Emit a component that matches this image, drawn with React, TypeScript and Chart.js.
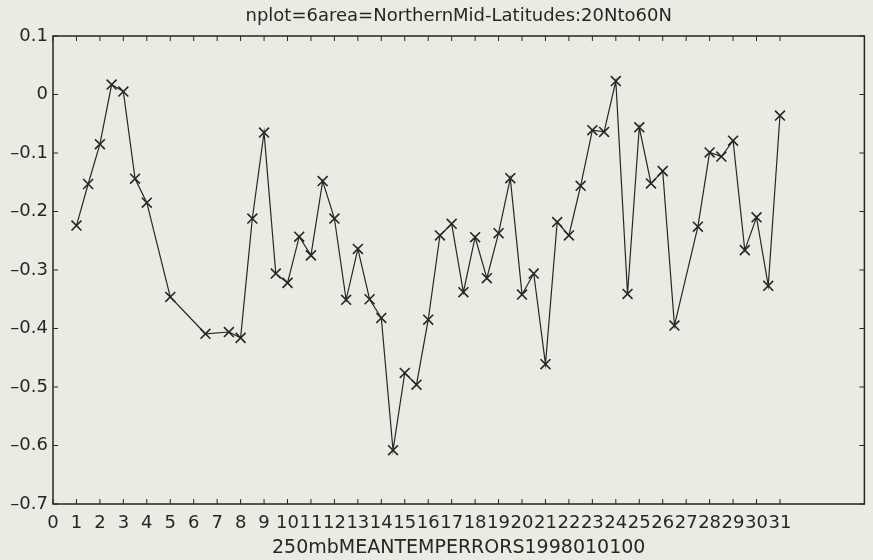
import React, { useEffect, useRef } from "react";
import { Chart, registerables } from "chart.js";

Chart.register(...registerables);

const TITLE = "nplot=6area=NorthernMid-Latitudes:20Nto60N";
const X_TITLE = "250mbMEANTEMPERRORS1998010100";

const dayValues = [
  1, 1.5, 2, 2.5, 3, 3.5, 4, 5, 6.5, 7.5, 8, 8.5, 9, 9.5, 10, 10.5, 11, 11.5,
  12, 12.5, 13, 13.5, 14, 14.5, 15, 15.5, 16, 16.5, 17, 17.5, 18, 18.5, 19,
  19.5, 20, 20.5, 21, 21.5, 22, 22.5, 23, 23.5, 24, 24.5, 25, 25.5, 26, 26.5,
  27.5, 28, 28.5, 29, 29.5, 30, 30.5, 31,
];

const errorValues = [
  -0.224, -0.153, -0.085, 0.017, 0.005, -0.144, -0.185, -0.346, -0.409,
  -0.406, -0.416, -0.212, -0.065, -0.306, -0.322, -0.243, -0.275, -0.148,
  -0.212, -0.351, -0.264, -0.35, -0.382, -0.608, -0.476, -0.496, -0.385,
  -0.241, -0.221, -0.338, -0.244, -0.314, -0.237, -0.143, -0.342, -0.306,
  -0.461, -0.218, -0.241, -0.156, -0.061, -0.064, 0.023, -0.341, -0.056,
  -0.152, -0.131, -0.395, -0.226, -0.099, -0.106, -0.079, -0.266, -0.21,
  -0.327, -0.036,
];

const xTickValues = [
  0, 1, 2, 3, 4, 5, 6, 7, 8, 9, 10, 11, 12, 13, 14, 15, 16, 17, 18, 19, 20,
  21, 22, 23, 24, 25, 26, 27, 28, 29, 30, 31,
];
const yTickValues = [-0.7, -0.6, -0.5, -0.4, -0.3, -0.2, -0.1, 0, 0.1];

const X_MIN = 0;
const X_MAX = 34.6;
const Y_MIN = -0.7;
const Y_MAX = 0.1;

const INK = "#262626";
const BG = "#ebebe4";
const FONT = "'DejaVu Sans', sans-serif";

const framePlugin = {
  id: "frameTicks",
  afterDraw(chart: any) {
    const { ctx, chartArea: a, scales } = chart;
    const tl = 5;
    ctx.save();
    ctx.strokeStyle = INK;
    ctx.lineWidth = 1.5;
    ctx.strokeRect(a.left, a.top, a.right - a.left, a.bottom - a.top);
    ctx.lineWidth = 1;
    ctx.beginPath();
    for (const v of xTickValues) {
      const px = scales.x.getPixelForValue(v);
      ctx.moveTo(px, a.top);
      ctx.lineTo(px, a.top + tl);
      ctx.moveTo(px, a.bottom);
      ctx.lineTo(px, a.bottom - tl);
    }
    for (const v of yTickValues) {
      const py = scales.y.getPixelForValue(v);
      ctx.moveTo(a.left, py);
      ctx.lineTo(a.left + tl, py);
      ctx.moveTo(a.right, py);
      ctx.lineTo(a.right - tl, py);
    }
    ctx.stroke();
    ctx.restore();
  },
};

export default function App() {
  const canvasRef = useRef<HTMLCanvasElement | null>(null);

  useEffect(() => {
    const canvas = canvasRef.current;
    if (!canvas) return;
    const points = dayValues.map((d, i) => ({ x: d, y: errorValues[i] }));
    const chart = new Chart(canvas, {
      type: "line",
      data: {
        datasets: [
          {
            data: points,
            borderColor: INK,
            borderWidth: 1.2,
            pointStyle: "crossRot",
            pointRadius: 7,
            pointBorderWidth: 1.6,
            pointBorderColor: INK,
            pointBackgroundColor: INK,
            tension: 0,
            fill: false,
          },
        ],
      },
      options: {
        responsive: false,
        animation: false,
        devicePixelRatio: 1,
        layout: { padding: { left: 0, right: 1, top: 0, bottom: 0 } },
        plugins: {
          legend: { display: false },
          tooltip: { enabled: false },
          title: { display: false },
        },
        scales: {
          xTop: {
            type: "linear",
            position: "top",
            min: X_MIN,
            max: X_MAX,
            grid: { display: false, drawTicks: false },
            border: { display: false },
            ticks: { display: false },
            afterFit: (scale: any) => {
              scale.height = 36;
            },
            title: {
              display: true,
              text: TITLE,
              color: INK,
              font: { family: FONT, size: 18, lineHeight: 1.2 },
              padding: { top: 5.5, bottom: 0 },
            },
          },
          x: {
            type: "linear",
            position: "bottom",
            min: X_MIN,
            max: X_MAX,
            grid: { display: false, drawTicks: false },
            border: { display: false },
            afterBuildTicks: (scale: any) => {
              scale.ticks = xTickValues.map((v) => ({ value: v }));
            },
            afterFit: (scale: any) => {
              scale.height = 56;
            },
            ticks: {
              autoSkip: false,
              maxRotation: 0,
              minRotation: 0,
              padding: 9,
              color: INK,
              font: { family: FONT, size: 18 },
              callback: (v: any) => String(v),
            },
            title: {
              display: true,
              text: X_TITLE,
              color: INK,
              font: { family: FONT, size: 19, lineHeight: 1.2 },
              padding: { top: 0, bottom: 1 },
            },
          },
          y: {
            type: "linear",
            min: Y_MIN,
            max: Y_MAX,
            grid: { display: false, drawTicks: false },
            border: { display: false },
            afterBuildTicks: (scale: any) => {
              scale.ticks = yTickValues.map((v) => ({ value: v }));
            },
            afterFit: (scale: any) => {
              scale.width = 53;
            },
            ticks: {
              padding: 5,
              color: INK,
              font: { family: FONT, size: 18 },
              callback: (v: any) => {
                const r = Math.round(Number(v) * 10) / 10;
                if (r === 0) return "0";
                return r < 0 ? "\u2013" + Math.abs(r).toFixed(1) : r.toFixed(1);
              },
            },
          },
        },
      },
      plugins: [framePlugin],
    });
    return () => chart.destroy();
  }, []);

  return (
    <div
      style={{
        position: "fixed",
        left: 0,
        top: 0,
        width: 873,
        height: 560,
        background: BG,
      }}
    >
      <canvas ref={canvasRef} width={873} height={560} style={{ display: "block" }} />
    </div>
  );
}
